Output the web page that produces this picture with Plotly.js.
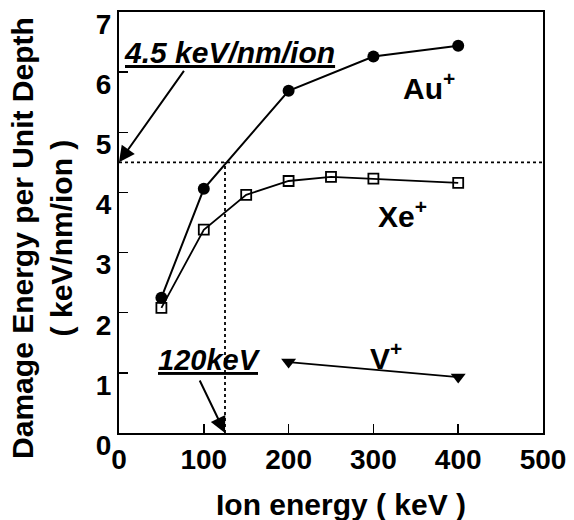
<!DOCTYPE html>
<html>
<head>
<meta charset="utf-8">
<script src="https://cdn.plot.ly/plotly-3.0.1.min.js"></script>
<style>html,body{margin:0;padding:0;background:#fff;}#chart{width:574px;height:520px;}</style>
</head>
<body>
<div id="chart"></div>
<script>
// Data
const auEnergy = [50, 100, 200, 300, 400];
const auDamage = [2.25, 4.06, 5.69, 6.26, 6.44];
const xeEnergy = [50, 100, 150, 200, 250, 300, 400];
const xeDamage = [2.08, 3.38, 3.96, 4.19, 4.26, 4.23, 4.16];
const vEnergy = [200, 400];
const vDamage = [1.18, 0.93];
const thresholdDamage = 4.5;   // keV/nm/ion
const thresholdEnergy = 125;   // keV (marked "120keV")
const xRange = [0, 500];
const yRange = [0, 7];
const xTicks = [0, 100, 200, 300, 400, 500];
const yTicks = [0, 1, 2, 3, 4, 5, 6, 7];

const FONT = "Liberation Sans, Arial, Helvetica, sans-serif";
const dashStyle = {color: '#000', width: 1.8, dash: '3px,3px'};

const traces = [
  {x: [xRange[0], xRange[1]], y: [thresholdDamage, thresholdDamage], mode: 'lines', line: dashStyle, hoverinfo: 'skip'},
  {x: [thresholdEnergy, thresholdEnergy], y: [yRange[0], thresholdDamage], mode: 'lines', line: dashStyle, hoverinfo: 'skip'},
  {x: auEnergy, y: auDamage, mode: 'lines+markers', name: 'Au+',
   line: {color: '#000', width: 2}, marker: {symbol: 'circle', size: 12, color: '#000'}},
  {x: xeEnergy, y: xeDamage, mode: 'lines+markers', name: 'Xe+',
   line: {color: '#000', width: 1.8}, marker: {symbol: 'square-open', size: 10, color: '#000', line: {width: 1.8, color: '#000'}}},
  {x: vEnergy, y: vDamage, mode: 'lines+markers', name: 'V+',
   line: {color: '#000', width: 1.8}, marker: {symbol: 'triangle-down', size: 13, color: '#000'}}
];

const tickFont = {family: FONT, size: 28, color: '#000', weight: 'bold'};
const labelFont = {family: FONT, size: 30, color: '#000', weight: 'bold'};
const titleFont = {family: FONT, size: 30, color: '#000', weight: 'bold'};

const layout = {
  width: 574, height: 520,
  margin: {l: 119, r: 31, t: 12, b: 87},
  paper_bgcolor: '#fff', plot_bgcolor: '#fff',
  showlegend: false,
  xaxis: {
    range: xRange, tickvals: xTicks, ticktext: xTicks.map(String),
    ticks: 'inside', ticklen: 9, tickwidth: 1.5, tickcolor: '#000',
    showline: true, linecolor: '#000', linewidth: 2, mirror: true,
    showgrid: false, zeroline: false, tickfont: tickFont
  },
  yaxis: {
    range: yRange, tickvals: yTicks, ticktext: yTicks.map(String),
    ticks: 'inside', ticklen: 9, tickwidth: 1.5, tickcolor: '#000',
    showline: true, linecolor: '#000', linewidth: 2, mirror: true,
    showgrid: false, zeroline: false, tickfont: tickFont,
    ticklabelshift: 12, ticklabeloverflow: 'allow'
  },
  annotations: [
    {xref: 'paper', yref: 'paper', x: 0.524, y: -0.171, text: 'Ion energy ( keV )',
     showarrow: false, xanchor: 'center', yanchor: 'middle', font: titleFont},
    {xref: 'paper', yref: 'paper', x: -0.182, y: 0.463, text: 'Damage Energy per Unit Depth<br>( keV/nm/ion )',
     textangle: -90, showarrow: false, xanchor: 'center', yanchor: 'middle', font: titleFont},
    {x: 3, y: 6.32, text: '<i><u>4.5 keV/nm/ion</u></i>', showarrow: false, xanchor: 'left', yanchor: 'middle', font: labelFont},
    {x: 44, y: 1.21, text: '<i><u>120keV</u></i>', showarrow: false, xanchor: 'left', yanchor: 'middle', font: {family: FONT, size: 29, color: '#000', weight: 'bold'}},
    {x: 332, y: 5.77, text: 'Au<sup>+</sup>', showarrow: false, xanchor: 'left', yanchor: 'middle', font: labelFont},
    {x: 303, y: 3.64, text: 'Xe<sup>+</sup>', showarrow: false, xanchor: 'left', yanchor: 'middle', font: labelFont},
    {x: 294, y: 1.28, text: 'V<sup>+</sup>', showarrow: false, xanchor: 'left', yanchor: 'middle', font: labelFont},
    {x: 0, y: thresholdDamage, text: '', showarrow: true, ax: 66, ay: -93,
     arrowhead: 2, arrowsize: 1.6, arrowwidth: 2, arrowcolor: '#000', standoff: 0},
    {x: thresholdEnergy, y: 0, text: '', showarrow: true, ax: -26, ay: -54,
     arrowhead: 2, arrowsize: 1.6, arrowwidth: 2, arrowcolor: '#000', standoff: 0}
  ]
};

Plotly.newPlot('chart', traces, layout, {displayModeBar: false, staticPlot: true});
</script>
</body>
</html>
